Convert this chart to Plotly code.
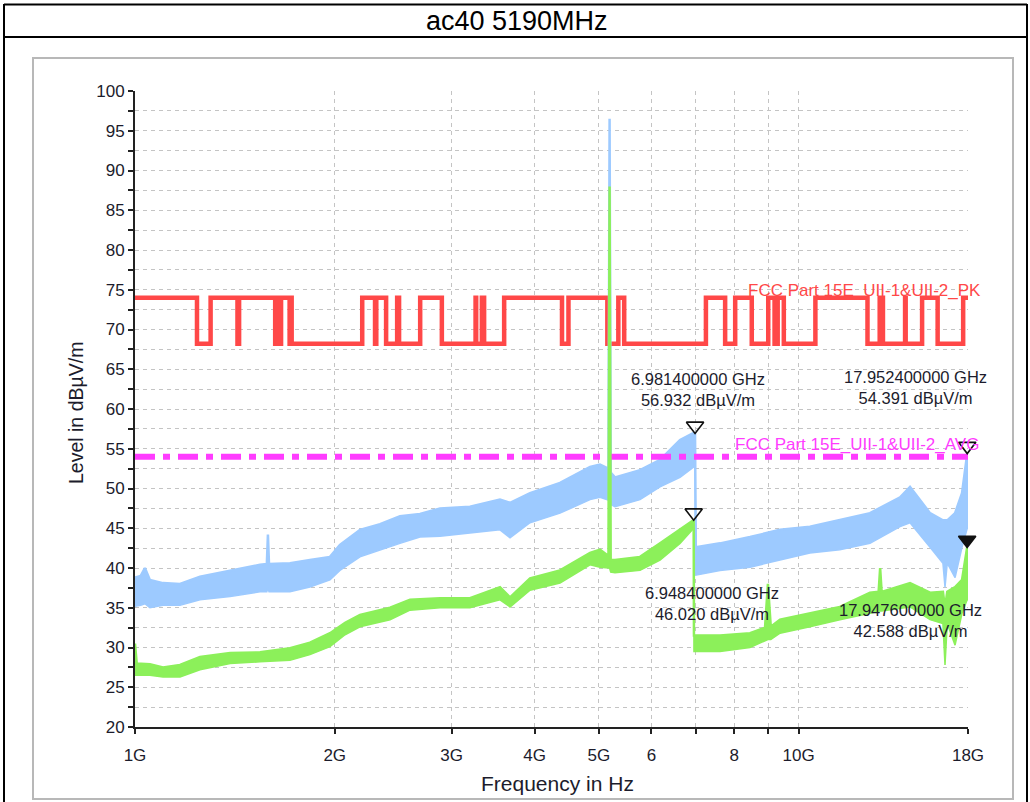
import math
import plotly.graph_objects as go

# ---------------- data ----------------
# Peak trace (light blue): envelope of the noisy sweep, frequencies in GHz
pk_freq = [1.000, 1.020, 1.035, 1.053, 1.102, 1.169, 1.253, 1.391, 1.543, 1.580, 1.586, 1.592,
           1.712, 1.835, 1.967, 2.036, 2.183, 2.340, 2.508, 2.688, 2.882, 3.197, 3.548, 3.674,
           3.938, 4.370, 4.850, 5.020, 5.170, 5.190, 5.210, 5.289, 5.768, 6.183, 6.627, 6.950,
           6.9814, 7.000, 7.613, 8.448, 9.376, 10.40, 11.54, 12.81, 14.22, 14.72, 15.78, 16.50,
           16.62, 16.75, 17.21, 17.63, 17.9524, 18.000]
pk_low = [35.2, 35.3, 35.5, 35.0, 35.3, 35.3, 36.0, 36.4, 37.0, 37.0, 37.5, 37.0,
          37.0, 37.6, 38.5, 39.7, 41.4, 42.3, 43.1, 43.9, 44.0, 44.4, 44.8, 43.8,
          45.7, 46.9, 48.6, 48.9, 48.5, 48.5, 48.0, 47.7, 48.6, 50.2, 51.4, 52.7,
          53.0, 39.1, 39.7, 40.1, 41.0, 41.9, 42.3, 43.1, 45.2, 45.7, 42.6, 40.6,
          37.6, 40.6, 38.8, 42.6, 45.0, 45.0]
pk_high = [38.8, 39.0, 40.0, 38.5, 38.1, 38.0, 38.9, 39.7, 40.4, 40.5, 44.2, 40.5,
           40.6, 41.0, 41.4, 42.9, 44.8, 45.5, 46.5, 46.8, 47.5, 47.7, 48.6, 48.2,
           49.4, 50.7, 52.7, 53.0, 52.5, 96.5, 52.0, 51.4, 52.3, 53.6, 56.1, 57.0,
           56.932, 42.6, 43.1, 43.9, 44.8, 45.2, 46.0, 46.9, 48.9, 50.2, 46.9, 46.0,
           46.0, 46.0, 46.9, 49.4, 54.391, 54.5]

# Average trace (green)
av_freq = [1.000, 1.006, 1.053, 1.102, 1.169, 1.253, 1.391, 1.543, 1.712, 1.835, 1.967, 2.073,
           2.183, 2.423, 2.597, 2.882, 3.197, 3.548, 3.674, 3.938, 4.370, 4.850, 5.020, 5.170,
           5.190, 5.210, 5.289, 5.768, 6.183, 6.627, 6.9484, 6.955, 7.613, 8.448, 8.900, 8.990,
           9.080, 9.376, 10.40, 11.54, 12.81, 13.20, 13.27, 13.34, 14.72, 15.78, 16.50, 16.62,
           16.75, 17.21, 17.63, 17.9476, 18.000]
av_low = [26.5, 26.5, 26.5, 26.3, 26.3, 27.2, 28.0, 28.2, 28.4, 29.1, 30.1, 31.6,
          32.6, 33.5, 34.7, 35.0, 35.0, 36.0, 35.1, 37.2, 38.1, 40.4, 40.1, 40.0,
          40.0, 39.5, 39.4, 39.7, 41.0, 43.1, 45.0, 29.5, 29.5, 30.0, 30.8, 31.0,
          31.0, 31.8, 32.6, 33.5, 34.3, 34.6, 34.6, 34.6, 35.1, 33.5, 33.0, 27.8,
          33.0, 30.3, 34.3, 36.0, 36.0]
av_high = [30.5, 28.0, 27.9, 27.5, 27.8, 28.8, 29.3, 29.4, 29.9, 30.6, 31.8, 33.1,
           34.1, 35.0, 36.0, 36.2, 36.2, 37.6, 36.3, 38.7, 39.7, 41.9, 42.3, 41.5,
           88.0, 41.0, 41.0, 41.4, 43.1, 44.8, 46.02, 31.5, 31.5, 31.8, 32.5, 38.0,
           32.6, 33.5, 34.3, 35.1, 36.9, 37.0, 40.0, 37.0, 38.1, 36.9, 37.0, 35.0,
           37.0, 37.6, 38.5, 42.588, 42.6]

# FCC Part 15E peak limit: band edges (GHz) and level of each segment
pk_limit_edges = [1.0, 1.24, 1.3, 1.427, 1.435, 1.6265, 1.6455, 1.6465, 1.66, 1.71, 1.7188, 1.7222,
                  2.2, 2.3, 2.31, 2.39, 2.4835, 2.5, 2.69, 2.9, 3.26, 3.267, 3.332, 3.339, 3.3458,
                  3.358, 3.6, 4.4, 4.5, 5.15, 5.35, 5.46, 7.25, 7.75, 8.025, 8.5, 9.0, 9.2, 9.3,
                  9.5, 10.6, 12.7, 13.25, 13.4, 14.47, 14.5, 15.35, 16.2, 17.7, 18.0]
pk_limit_levels = [74, 68.2, 74, 68.2, 74, 68.2, 74, 68.2, 74, 68.2, 74, 68.2,
                   74, 68.2, 74, 68.2, 74, 68.2, 74, 68.2, 74, 68.2, 74, 68.2, 74,
                   68.2, 74, 68.2, 74, 68.2, 74, 68.2, 74, 68.2, 74, 68.2, 74, 68.2, 74,
                   68.2, 74, 68.2, 74, 68.2, 74, 68.2, 74, 68.2, 74]

# FCC Part 15E average limit
avg_limit_freq = [1.0, 18.0]
avg_limit_level = [54.0, 54.0]

# Markers
marker_freq = [6.9814, 6.9484, 17.9524, 17.9476]
marker_level = [56.932, 46.020, 54.391, 42.588]
marker_filled = [False, False, False, True]
marker_label = ["6.981400000 GHz<br>56.932 dBµV/m",
                "6.948400000 GHz<br>46.020 dBµV/m",
                "17.952400000 GHz<br>54.391 dBµV/m",
                "17.947600000 GHz<br>42.588 dBµV/m"]

# Axis ticks
y_range = [20, 100]
x_range_ghz = [1.0, 18.0]
x_tickvals = [1, 2, 3, 4, 5, 6, 7, 8, 9, 10, 18]
x_ticktext = ["1G", "2G", "3G", "4G", "5G", "6", "", "8", "", "10G", "18G"]

limit_pk_name = "FCC Part 15E_UII-1&UII-2_PK"
limit_avg_name = "FCC Part 15E_UII-1&UII-2_AVG"
title_text = "ac40 5190MHz"

# ---------------- styling / layout ----------------
W, H = 1030, 802
ML, MR, MT, MB = 135, 62, 91, 75
PW, PH = W - ML - MR, H - MT - MB
FONT = "Liberation Sans, Arial, sans-serif"
BLUE = "#9dcaff"
GREEN = "#8cf05a"
RED = "#ff4848"
MAG = "#ff3cff"
TXT = "#1c1c2c"
GRID = "#c4c4c4"


def px(xp):
    return (xp - ML) / PW


def py(yp):
    return (H - MB - yp) / PH


fig = go.Figure()

# peak limit (step line)
fig.add_trace(go.Scatter(
    x=pk_limit_edges, y=pk_limit_levels + [pk_limit_levels[-1]],
    mode="lines", line=dict(color=RED, width=4.5, shape="hv"),
    hoverinfo="skip", showlegend=False))

# peak trace band
fig.add_trace(go.Scatter(x=pk_freq, y=pk_low, mode="lines",
                         line=dict(color=BLUE, width=1.5), showlegend=False))
fig.add_trace(go.Scatter(x=pk_freq, y=pk_high, mode="lines", fill="tonexty",
                         fillcolor=BLUE, line=dict(color=BLUE, width=2.5),
                         showlegend=False))

# average limit
fig.add_trace(go.Scatter(x=avg_limit_freq, y=avg_limit_level, mode="lines",
                         line=dict(color=MAG, width=6, dash="20px,8px,7px,8px"),
                         showlegend=False))

# average trace band
fig.add_trace(go.Scatter(x=av_freq, y=av_low, mode="lines",
                         line=dict(color=GREEN, width=1.5), showlegend=False))
fig.add_trace(go.Scatter(x=av_freq, y=av_high, mode="lines", fill="tonexty",
                         fillcolor=GREEN, line=dict(color=GREEN, width=2.5),
                         showlegend=False))

# markers (triangle tip sits on the value)
MSIZE = 15
px_per_db = PH / (y_range[1] - y_range[0])
tip_off = (MSIZE / 2) / px_per_db
fig.add_trace(go.Scatter(
    x=marker_freq, y=[v + tip_off for v in marker_level], mode="markers",
    cliponaxis=False,
    marker=dict(symbol=["triangle-down" if f else "triangle-down-open" for f in marker_filled],
                size=MSIZE, color="#111111", line=dict(color="#111111", width=1.6)),
    showlegend=False))

annotations = []
shifts = [(3, 22, "bottom"), (18, -62, "top"), (-52, 45, "bottom"), (-57, -52, "top")]
for f, v, lab, (dx, dy, ya) in zip(marker_freq, marker_level, marker_label, shifts):
    annotations.append(dict(x=math.log10(f), y=v, xref="x", yref="y", text=lab,
                            showarrow=False, xanchor="center", yanchor=ya,
                            xshift=dx, yshift=dy, align="center",
                            font=dict(family=FONT, size=16.5, color=TXT)))

# limit labels
annotations.append(dict(x=math.log10(x_range_ghz[1]), y=pk_limit_levels[-1], xref="x", yref="y",
                        text=limit_pk_name, showarrow=False, xanchor="right", yanchor="bottom",
                        xshift=15, yshift=-4, font=dict(family=FONT, size=17, color=RED)))
annotations.append(dict(x=math.log10(x_range_ghz[1]), y=avg_limit_level[-1], xref="x", yref="y",
                        text=limit_avg_name, showarrow=False, xanchor="right", yanchor="bottom",
                        xshift=13, yshift=1, font=dict(family=FONT, size=17, color=MAG)))

# axis titles and main title
annotations.append(dict(x=px(557), y=py(783), xref="paper", yref="paper", text="Frequency in Hz",
                        showarrow=False, xanchor="center", yanchor="middle",
                        font=dict(family=FONT, size=21, color=TXT)))
annotations.append(dict(x=px(76), y=py(413), xref="paper", yref="paper", text="Level in dBµV/m",
                        showarrow=False, xanchor="center", yanchor="middle", textangle=-90,
                        font=dict(family=FONT, size=19.5, color=TXT)))
annotations.append(dict(x=px(517), y=py(21), xref="paper", yref="paper", text=title_text,
                        showarrow=False, xanchor="center", yanchor="middle",
                        font=dict(family=FONT, size=27, color="#000000")))

shapes = [
    # grey chart panel
    dict(type="rect", xref="paper", yref="paper", x0=px(33), x1=px(1013), y0=py(799), y1=py(58),
         line=dict(color="#b8b8b8", width=2), fillcolor="rgba(0,0,0,0)", layer="below"),
    # outer black frame and title separator
    dict(type="line", xref="paper", yref="paper", x0=px(4), x1=px(1027), y0=py(4.5), y1=py(4.5),
         line=dict(color="#000000", width=2)),
    dict(type="line", xref="paper", yref="paper", x0=px(4), x1=px(1027), y0=py(37), y1=py(37),
         line=dict(color="#000000", width=2)),
    dict(type="line", xref="paper", yref="paper", x0=px(4), x1=px(4), y0=py(4), y1=py(802),
         line=dict(color="#000000", width=2)),
    dict(type="line", xref="paper", yref="paper", x0=px(1027), x1=px(1027), y0=py(4), y1=py(802),
         line=dict(color="#000000", width=2)),
]

fig.update_layout(
    width=W, height=H, margin=dict(l=ML, r=MR, t=MT, b=MB, pad=0),
    paper_bgcolor="white", plot_bgcolor="white", showlegend=False,
    annotations=annotations, shapes=shapes,
    xaxis=dict(type="log", range=[math.log10(x_range_ghz[0]), math.log10(x_range_ghz[1])],
               tickmode="array", tickvals=x_tickvals, ticktext=x_ticktext,
               showgrid=True, gridcolor=GRID, griddash="4px,4px", gridwidth=1,
               showline=True, linecolor="#222222", linewidth=2,
               ticks="outside", ticklen=5, tickwidth=1.5, tickcolor="#222222",
               ticklabelstandoff=7,
               tickfont=dict(family=FONT, size=17, color=TXT), zeroline=False),
    yaxis=dict(range=y_range, tick0=20, dtick=5,
               showgrid=True, gridcolor=GRID, griddash="4px,4px", gridwidth=1,
               showline=True, linecolor="#222222", linewidth=2,
               ticks="outside", ticklen=5, tickwidth=1.5, tickcolor="#222222",
               tickfont=dict(family=FONT, size=17, color=TXT), zeroline=False,
               minor=dict(dtick=2.5, ticks="outside", ticklen=5, tickwidth=1.5,
                          tickcolor="#222222", showgrid=True, gridcolor=GRID,
                          griddash="4px,4px", gridwidth=1)),
)

fig.write_html("out.html")
